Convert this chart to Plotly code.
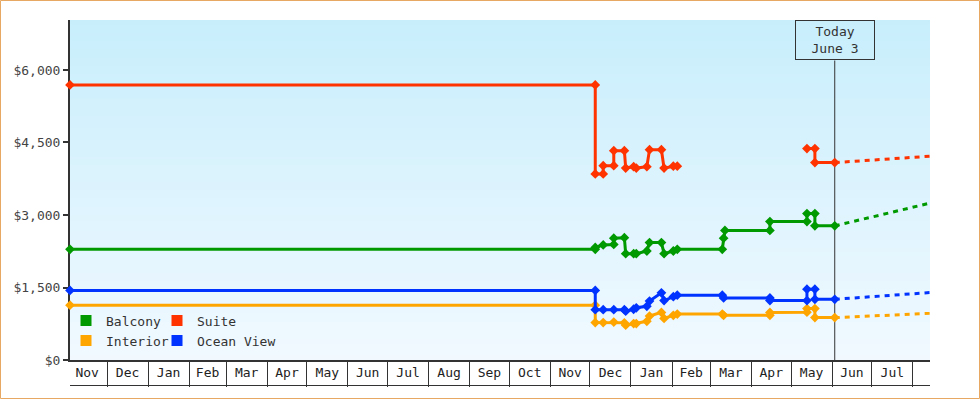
import base64
import struct
import zlib
import plotly.graph_objects as go

# ---------------- data ----------------
suite_dates = ["2022-11-03", "2023-12-05", "2023-12-05", "2023-12-11", "2023-12-11", "2023-12-19",
               "2023-12-19", "2023-12-27", "2023-12-28", "2024-01-03", "2024-01-05", "2024-01-13",
               "2024-01-15", "2024-01-24", "2024-01-26", "2024-02-02", "2024-02-05", None,
               "2024-05-13", "2024-05-19", "2024-05-19", "2024-06-03"]
suite_prices = [5690, 5690, 3850, 3850, 4020, 4020,
                4330, 4330, 3970, 4000, 3970, 4000,
                4350, 4350, 3970, 4010, 4010, None,
                4375, 4375, 4085, 4085]

balcony_dates = ["2022-11-03", "2023-12-05", "2023-12-05", "2023-12-11", "2023-12-19", "2023-12-19",
                 "2023-12-27", "2023-12-28", "2024-01-03", "2024-01-05", "2024-01-13", "2024-01-15",
                 "2024-01-24", "2024-01-26", "2024-02-02", "2024-02-05", "2024-03-10", "2024-03-11",
                 "2024-03-12", "2024-04-15", "2024-04-15", "2024-05-13", "2024-05-13", "2024-05-19",
                 "2024-05-19", "2024-06-03"]
balcony_prices = [2290, 2290, 2330, 2380, 2390, 2520,
                  2530, 2200, 2200, 2200, 2255, 2430,
                  2430, 2200, 2255, 2290, 2290, 2520,
                  2680, 2680, 2865, 2865, 3030, 3030,
                  2775, 2775]

ocean_dates = ["2022-11-03", "2023-12-05", "2023-12-05", "2023-12-11", "2023-12-19", "2023-12-27",
               "2023-12-28", "2024-01-03", "2024-01-05", "2024-01-13", "2024-01-15", "2024-01-24",
               "2024-01-26", "2024-02-02", "2024-02-05", "2024-03-10", "2024-03-11", "2024-04-15",
               "2024-04-15", "2024-05-13", "2024-05-13", "2024-05-19", "2024-05-19", "2024-06-03"]
ocean_prices = [1440, 1440, 1040, 1040, 1040, 1040,
                1010, 1050, 1080, 1110, 1220, 1390,
                1230, 1310, 1340, 1340, 1285, 1285,
                1230, 1230, 1465, 1465, 1256, 1256]

interior_dates = ["2022-11-03", "2023-12-05", "2023-12-05", "2023-12-11", "2023-12-19", "2023-12-27",
                  "2023-12-28", "2024-01-03", "2024-01-05", "2024-01-13", "2024-01-15", "2024-01-24",
                  "2024-01-26", "2024-02-02", "2024-02-05", "2024-03-10", "2024-03-11", "2024-04-15",
                  "2024-04-15", "2024-05-13", "2024-05-13", "2024-05-19", "2024-05-19", "2024-06-03"]
interior_prices = [1135, 1135, 775, 775, 785, 770,
                   720, 755, 755, 800, 910, 985,
                   860, 925, 950, 950, 925, 925,
                   985, 990, 1065, 1065, 877, 877]

forecast_dates = ["2024-06-03", "2024-08-14"]
suite_forecast = [4085, 4215]
balcony_forecast = [2775, 3245]
ocean_forecast = [1256, 1395]
interior_forecast = [877, 965]

today = "2024-06-03"
today_label = "Today<br>June 3"
x_range = ["2022-11-03", "2024-08-14"]
y_range = [0, 7034]

# name, colour, dates, prices, forecast, legend, legend column
series = [
    ("Balcony", "#009900", balcony_dates, balcony_prices, balcony_forecast, "legend", 0),
    ("Suite", "#ff3300", suite_dates, suite_prices, suite_forecast, "legend", 1),
    ("Interior", "#ffa500", interior_dates, interior_prices, interior_forecast, "legend2", 0),
    ("Ocean View", "#0033ff", ocean_dates, ocean_prices, ocean_forecast, "legend2", 1),
]

# ---------------- layout constants ----------------
W, H = 980, 400
ML, MR, MT, MB = 70, 50, 20, 40
PW, PH = W - ML - MR, H - MT - MB
FONT = "DejaVu Sans Mono"
INK = "#333333"


def px_x(p):
    return (p - ML) / PW


def px_y(p):
    return (H - MB - p) / PH


def gradient_png(top, bottom, n=340):
    raw = b"".join(
        b"\x00" + bytes(round(t + (b - t) * i / (n - 1)) for t, b in zip(top, bottom))
        for i in range(n)
    )

    def chunk(tag, data):
        return (struct.pack(">I", len(data)) + tag + data
                + struct.pack(">I", zlib.crc32(tag + data) & 0xffffffff))

    png = (b"\x89PNG\r\n\x1a\n"
           + chunk(b"IHDR", struct.pack(">IIBBBBB", 1, n, 8, 2, 0, 0, 0))
           + chunk(b"IDAT", zlib.compress(raw))
           + chunk(b"IEND", b""))
    return "data:image/png;base64," + base64.b64encode(png).decode()


fig = go.Figure()

for name, color, xs, ys, fc, leg, col in series:
    fig.add_trace(go.Scatter(
        x=xs, y=ys, mode="lines+markers", name=name, showlegend=False,
        line=dict(color=color, width=3), connectgaps=False,
        marker=dict(symbol="diamond", size=7.5, color=color),
        cliponaxis=False, hoverinfo="x+y+name",
    ))
    fig.add_trace(go.Scatter(
        x=forecast_dates, y=fc, mode="lines", name=name + " forecast", showlegend=False,
        line=dict(color=color, width=3, dash="5px,5px"), hoverinfo="skip",
    ))

for name, color, xs, ys, fc, leg, col in series:
    fig.add_trace(go.Scatter(
        x=[None], y=[None], mode="markers", name=name, legend=leg,
        legendwidth=46 if col == 0 else 120,
        marker=dict(symbol="square", size=11, color=color),
    ))

legend_common = dict(
    orientation="h", xanchor="left", yanchor="middle",
    bgcolor="rgba(0,0,0,0)", borderwidth=0,
    font=dict(family=FONT, size=13, color=INK),
    entrywidthmode="pixels", itemwidth=30,
    tracegroupgap=0,
)

fig.update_layout(
    width=W, height=H,
    margin=dict(l=ML, r=MR, t=MT, b=MB, pad=0),
    paper_bgcolor="white", plot_bgcolor="rgba(0,0,0,0)",
    font=dict(family=FONT, size=13, color=INK),
    legend=dict(x=px_x(66), y=px_y(320.5), **legend_common),
    legend2=dict(x=px_x(66), y=px_y(340.5), **legend_common),
    xaxis=dict(
        type="date", range=x_range, showgrid=False, zeroline=False,
        showline=True, linecolor=INK, linewidth=2,
        ticks="outside", ticklen=25, tickwidth=1, tickcolor=INK,
        dtick="M1", tick0="2022-11-01", tickformat="%b", ticklabelmode="period",
        ticklabelstandoff=-26,
        tickfont=dict(family=FONT, size=13, color="#222222"),
    ),
    yaxis=dict(
        range=y_range, showgrid=False, zeroline=False,
        showline=True, linecolor=INK, linewidth=2,
        ticks="outside", ticklen=5, tickwidth=2, tickcolor=INK,
        tick0=0, dtick=1500, tickprefix="$", tickformat=",d",
        tickfont=dict(family=FONT, size=13, color="#444444"),
        layer="below traces",
    ),
    images=[dict(
        source=gradient_png((200, 238, 252), (241, 249, 255)),
        xref="paper", yref="paper", x=0, y=1, sizex=1, sizey=1,
        xanchor="left", yanchor="top", sizing="stretch", layer="below",
    )],
    shapes=[
        dict(type="line", xref="x", yref="paper", x0=today, x1=today,
             y0=0, y1=px_y(MT + 40.5), line=dict(color=INK, width=1), layer="below"),
        dict(type="line", xref="paper", yref="paper", x0=0, x1=1,
             y0=px_y(385.5), y1=px_y(385.5), line=dict(color=INK, width=1)),
        dict(type="rect", xref="paper", yref="paper",
             x0=px_x(0.5), x1=px_x(979.5), y0=px_y(398.5), y1=px_y(0.5),
             line=dict(color="#e6a862", width=1), fillcolor="rgba(0,0,0,0)"),
    ],
    annotations=[dict(
        x=today, xref="x", y=1, yref="paper", xanchor="center", yanchor="top",
        text=today_label, showarrow=False, align="center",
        font=dict(family=FONT, size=13, color=INK),
        bordercolor=INK, borderwidth=1, borderpad=0, width=78, height=38,
        bgcolor="rgba(0,0,0,0)",
    )],
)

fig.write_html("out.html")
